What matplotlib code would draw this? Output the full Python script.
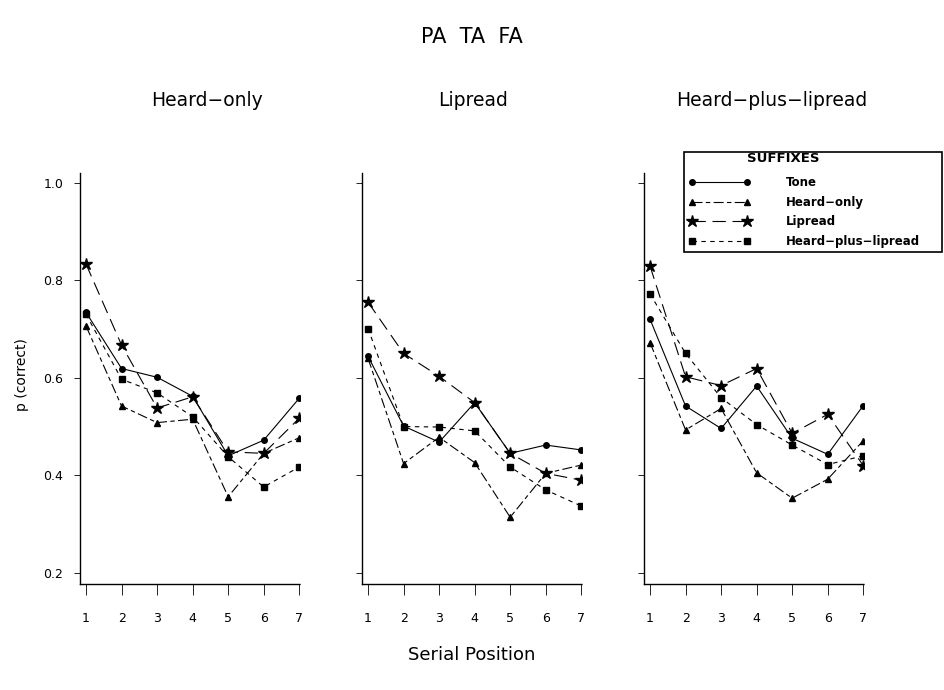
import numpy as np
import matplotlib
matplotlib.use("Agg")
import matplotlib.pyplot as plt

# serial positions and panel conditions
positions = [1, 2, 3, 4, 5, 6, 7]
panels = ["Heard\u2212only", "Lipread", "Heard\u2212plus\u2212lipread"]
suffixes = ["Tone", "Heard\u2212only", "Lipread", "Heard\u2212plus\u2212lipread"]

# p(correct) per panel, one list per suffix
heard_tone = [0.734, 0.619, 0.601, 0.562, 0.440, 0.472, 0.558]
heard_heard = [0.706, 0.542, 0.508, 0.515, 0.356, 0.445, 0.477]
heard_lip = [0.833, 0.667, 0.538, 0.561, 0.448, 0.445, 0.517]
heard_hpl = [0.730, 0.597, 0.569, 0.520, 0.438, 0.376, 0.417]

lip_tone = [0.644, 0.501, 0.468, 0.549, 0.445, 0.462, 0.452]
lip_heard = [0.640, 0.424, 0.478, 0.426, 0.314, 0.404, 0.421]
lip_lip = [0.755, 0.650, 0.603, 0.549, 0.445, 0.404, 0.390]
lip_hpl = [0.701, 0.500, 0.499, 0.491, 0.417, 0.370, 0.337]

hpl_tone = [0.720, 0.542, 0.496, 0.583, 0.476, 0.443, 0.543]
hpl_heard = [0.672, 0.493, 0.537, 0.405, 0.353, 0.392, 0.471]
hpl_lip = [0.829, 0.602, 0.584, 0.619, 0.486, 0.525, 0.420]
hpl_hpl = [0.772, 0.650, 0.559, 0.504, 0.462, 0.422, 0.440]

panel_data = [
    [heard_tone, heard_heard, heard_lip, heard_hpl],
    [lip_tone, lip_heard, lip_lip, lip_hpl],
    [hpl_tone, hpl_heard, hpl_lip, hpl_hpl],
]

styles = [
    dict(ls="-", marker="o", ms=4),
    dict(ls=(0, (9, 3, 4, 3)), marker="^", ms=4.5),
    dict(ls=(0, (12, 6)), marker="*", ms=9),
    dict(ls=(0, (4, 4)), marker="s", ms=4),
]

fig = plt.figure(figsize=(9.44, 6.9), dpi=100)
lefts = [80 / 944, 362 / 944, 644 / 944]
axes = []
for i, left in enumerate(lefts):
    ax = fig.add_axes([left, 0.1536, 0.233, 0.5957])
    for vals, st, name in zip(panel_data[i], styles, suffixes):
        ax.plot(positions, vals, color="black", lw=0.8, label=name,
                mfc="black", mec="black", **st)
    ax.set_xlim(0.83, 7.02)
    ax.set_ylim(0.177, 1.02)
    ax.set_xticks(positions)
    ax.set_yticks([0.2, 0.4, 0.6, 0.8, 1.0])
    for s in ["top", "right"]:
        ax.spines[s].set_visible(False)
    ax.spines["left"].set_linewidth(1.0)
    ax.spines["bottom"].set_linestyle((0, (2, 1)))
    ax.spines["bottom"].set_linewidth(1.0)
    ax.tick_params(axis="x", direction="out", length=8, width=0.6, pad=12, labelsize=9)
    ax.tick_params(axis="y", direction="out", length=4, width=0.6, pad=8, labelsize=9)
    if i == 0:
        ax.set_yticklabels(["0.2", "0.4", "0.6", "0.8", "1.0"])
    else:
        ax.set_yticklabels([])
    axes.append(ax)

fig.text(472 / 944, 1 - 37 / 690, "PA  TA  FA", ha="center", va="center", fontsize=15)
for cx, name in zip([207, 473, 772], panels):
    fig.text(cx / 944, 1 - 101 / 690, name, ha="center", va="center", fontsize=13.5)
fig.text(472 / 944, 1 - 655 / 690, "Serial Position", ha="center", va="center", fontsize=13)
fig.text(22 / 944, 1 - 375 / 690, "p (correct)", ha="center", va="center",
         rotation=90, fontsize=10)

handles, labels = axes[2].get_legend_handles_labels()
leg = fig.legend(handles, labels, loc="upper left", numpoints=2,
                 bbox_to_anchor=(684 / 944, 1 - 266 / 690, 258 / 944, 114 / 690),
                 mode="expand", borderaxespad=0, handlelength=5.2,
                 handletextpad=3.0, labelspacing=0.55, fancybox=False,
                 framealpha=1, title=" ", prop=dict(size=8.5, weight="bold"),
                 title_fontproperties=dict(size=9.5, weight="bold"))
leg.get_frame().set_edgecolor("black")
leg.get_frame().set_linewidth(1.2)
fig.text(783 / 944, 1 - 159 / 690, "SUFFIXES", ha="center", va="center",
         fontsize=9.5, fontweight="bold", zorder=10)

fig.savefig("out.png", dpi=100)
